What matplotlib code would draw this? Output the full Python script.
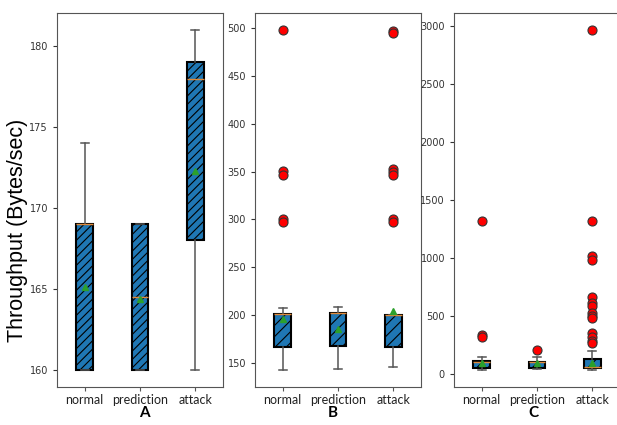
import matplotlib
matplotlib.use("Agg")
import matplotlib.pyplot as plt

groups = ["normal", "prediction", "attack"]
panel_labels = ["A", "B", "C"]

# panel A: five-number summaries, mean, outliers
a_whislo = [160, 160, 160]
a_q1 = [160, 160, 168]
a_med = [169, 164.5, 178]
a_q3 = [169, 169, 179]
a_whishi = [174, 169, 181]
a_mean = [165.1, 164.4, 172.3]
a_fliers = [[], [], []]

# panel B
b_whislo = [142.5, 143.5, 146]
b_q1 = [167, 168, 167]
b_med = [201, 202, 200]
b_q3 = [201, 202.5, 200.5]
b_whishi = [207.5, 208, 200.5]
b_mean = [196, 185.5, 204]
b_fliers = [[498, 351, 346, 300, 297], [], [497, 494.5, 353, 350, 346, 300, 297]]

# panel C
c_whislo = [37, 43, 37]
c_q1 = [52, 57, 57]
c_med = [105, 105, 60]
c_q3 = [112, 110, 128]
c_whishi = [146, 150, 204]
c_mean = [95, 100, 95]
c_fliers = [[1315, 339, 320], [205],
            [2963, 1315, 1019, 985, 669, 612, 590, 531, 502, 488, 353, 324, 290, 268]]

panels = [
    (a_whislo, a_q1, a_med, a_q3, a_whishi, a_mean, a_fliers),
    (b_whislo, b_q1, b_med, b_q3, b_whishi, b_mean, b_fliers),
    (c_whislo, c_q1, c_med, c_q3, c_whishi, c_mean, c_fliers),
]
hatches = ["////", "///", "///"]

plt.rcParams["hatch.linewidth"] = 0.8
fig = plt.figure(figsize=(6.17, 4.25), dpi=100)
W, H = 617.0, 425.0
lefts = [57, 255, 454]
label_x = [144, 333, 533]
axw = 166

for i, (wlo, q1, med, q3, whi, mean, fl) in enumerate(panels):
    ax = fig.add_axes([lefts[i] / W, 1 - 387 / H, axw / W, (387 - 13) / H])
    stats = []
    for j, g in enumerate(groups):
        stats.append(dict(label=g, whislo=wlo[j], q1=q1[j], med=med[j], q3=q3[j],
                          whishi=whi[j], mean=mean[j], fliers=fl[j]))
    ax.bxp(stats, patch_artist=True, showmeans=True, widths=0.3,
           boxprops=dict(facecolor="#1f77b4", edgecolor="black", linewidth=1.5, hatch=hatches[i]),
           whiskerprops=dict(color="#555555", linewidth=1.1),
           capprops=dict(color="#555555", linewidth=1.1),
           medianprops=dict(color="#e08a3a", linewidth=1.0),
           meanprops=dict(marker="^", markerfacecolor="#2ca02c", markeredgecolor="#2ca02c", markersize=5),
           flierprops=dict(marker="o", markerfacecolor="red", markeredgecolor="#333333",
                           markersize=6.5, markeredgewidth=0.8))
    ax.set_xlim(0.5, 3.5)
    for s in ax.spines.values():
        s.set_color("#555555")
    ax.tick_params(axis="y", labelsize=7, colors="#333333", length=3)
    ax.tick_params(axis="x", length=3, colors="#555555", pad=2)
    for t in ax.get_xticklabels():
        t.set_fontfamily("Lato")
        t.set_fontsize(9)
        t.set_color("#222222")
    fig.text(label_x[i] / W, 1 - 413 / H, panel_labels[i], ha="center", va="center",
             fontsize=11, fontweight="bold", family="Lato")
    if i == 0:
        ax.set_ylabel("Throughput (Bytes/sec)", fontsize=15.5, family="Liberation Sans")
        ax.yaxis.set_label_coords(-0.175, 0.42)

fig.savefig("out.png", dpi=100)
